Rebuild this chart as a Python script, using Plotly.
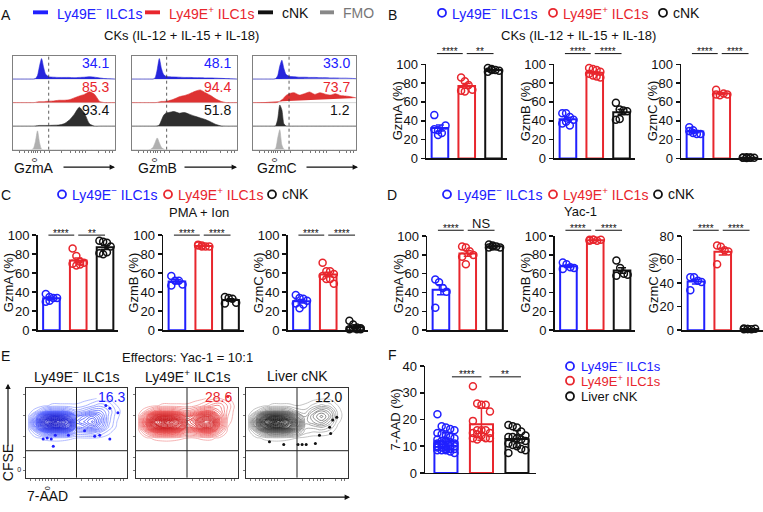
import numpy as np
import plotly.graph_objects as go

W, H = 763, 512
FONT = "Liberation Sans, Arial, Helvetica, sans-serif"
BLUE = "#2020ff"
RED = "#e8262d"
BLACK = "#111111"
GRAY = "#a8a8a8"
COLS = [BLUE, RED, BLACK]

NEG = "Ly49E<sup>−</sup> ILC1s"
POS = "Ly49E<sup>+</sup> ILC1s"

# ---------------- data ----------------
# A: histograms (fraction of row height) on a common GzmX scale
HIST_X = [0, 5, 10, 15, 18, 20, 22, 24, 26, 28, 30, 32, 35, 40, 45, 50, 55, 60, 65, 70, 75, 80, 85, 90, 95, 100]
GZMA_BLUE = [0, 0, 0, 0, 0, 0, 0.02, 0.15, 0.55, 0.87, 0.5, 0.2, 0.1, 0.08, 0.07, 0.07, 0.07, 0.06, 0.07, 0.08, 0.1, 0.08, 0.05, 0.02, 0.01, 0]
GZMA_RED = [0, 0, 0, 0, 0, 0, 0.01, 0.03, 0.04, 0.04, 0.04, 0.05, 0.06, 0.07, 0.1, 0.1, 0.12, 0.2, 0.28, 0.35, 0.46, 0.35, 0.05, 0, 0, 0]
GZMA_BLACK = [0, 0, 0, 0, 0, 0, 0.01, 0.02, 0.03, 0.03, 0.03, 0.03, 0.03, 0.04, 0.05, 0.1, 0.25, 0.5, 0.8, 0.55, 0.1, 0, 0, 0, 0, 0]
GZMA_FMO = [0, 0, 0, 0, 0, 0.05, 0.35, 0.8, 0.3, 0.02, 0, 0, 0, 0, 0, 0, 0, 0, 0, 0, 0, 0, 0, 0, 0, 0]
GZMB_BLUE = [0, 0, 0, 0, 0, 0, 0.05, 0.4, 0.87, 0.45, 0.2, 0.12, 0.1, 0.09, 0.08, 0.07, 0.07, 0.06, 0.06, 0.05, 0.05, 0.04, 0.03, 0.02, 0.01, 0]
GZMB_RED = [0, 0, 0, 0, 0, 0, 0, 0.01, 0.03, 0.05, 0.05, 0.06, 0.08, 0.15, 0.25, 0.3, 0.38, 0.48, 0.54, 0.42, 0.3, 0.15, 0.05, 0, 0, 0]
GZMB_BLACK = [0, 0, 0, 0, 0, 0, 0, 0.01, 0.05, 0.25, 0.45, 0.55, 0.58, 0.62, 0.55, 0.58, 0.5, 0.42, 0.35, 0.28, 0.18, 0.07, 0.01, 0, 0, 0]
GZMB_FMO = [0, 0, 0, 0, 0.02, 0.1, 0.3, 0.5, 0.3, 0.1, 0.03, 0, 0, 0, 0, 0, 0, 0, 0, 0, 0, 0, 0, 0, 0, 0]
GZMC_BLUE = [0, 0, 0, 0, 0, 0, 0.02, 0.15, 0.55, 0.8, 0.45, 0.2, 0.12, 0.1, 0.08, 0.08, 0.07, 0.07, 0.06, 0.06, 0.05, 0.05, 0.04, 0.04, 0.03, 0.02]
GZMC_RED = [0, 0, 0, 0, 0, 0, 0, 0.02, 0.06, 0.12, 0.2, 0.3, 0.38, 0.42, 0.32, 0.38, 0.45, 0.35, 0.42, 0.36, 0.32, 0.38, 0.3, 0.28, 0.25, 0.2]
GZMC_BLACK = [0, 0, 0, 0, 0, 0, 0.02, 0.3, 0.9, 0.7, 0.1, 0.01, 0, 0, 0, 0, 0, 0, 0, 0, 0, 0, 0, 0, 0, 0]
GZMC_FMO = [0, 0, 0, 0, 0, 0, 0.05, 0.5, 0.85, 0.2, 0.02, 0, 0, 0, 0, 0, 0, 0, 0, 0, 0, 0, 0, 0, 0, 0]
GZMA_PCT = [34.1, 85.3, 93.4]
GZMB_PCT = [48.1, 94.4, 51.8]
GZMC_PCT = [33.0, 73.7, 1.2]

# B: CKs (IL-12 + IL-15 + IL-18), % positive  [Ly49E-, Ly49E+, cNK]
CK_GZMA = [[46, 25, 27, 35, 31, 30], [86, 82, 78, 73, 72, 71], [96, 95, 94, 93, 92, 94]]
CK_GZMB = [[48, 48, 44, 41, 37, 39, 35], [96, 95, 94, 92, 90, 88, 87, 86], [59, 52, 51, 50, 41, 42]]
CK_GZMC = [[33, 30, 26, 26, 29, 27], [73, 67, 69, 68, 68], [1, 0.5, 1, 0.8, 0.6, 1.2, 0.7]]
# C: PMA + Ion
PMA_GZMA = [[38, 35, 34, 34, 30, 31], [86, 78, 72, 71, 70, 68, 69], [94, 93, 92, 88, 81, 80, 82]]
PMA_GZMB = [[57, 52, 52, 48, 47], [90, 89, 88, 88, 89, 88], [35, 34, 33, 29, 28]]
PMA_GZMC = [[37, 34, 33, 31, 28, 23, 27], [71, 62, 62, 59, 57, 54, 54, 49], [10, 6, 3, 2, 1, 2, 1, 1]]
# D: Yac-1
YAC_GZMA = [[54, 51, 45, 41, 24], [89, 88, 84, 80, 78, 70], [91, 90, 89, 88, 88, 89]]
YAC_GZMB = [[72, 70, 67, 66, 65], [96, 96, 95, 96, 95, 96], [74, 66, 60, 59, 58]]
YAC_GZMC = [[45, 45, 42, 41, 34], [72, 71, 68, 67, 56], [1.5, 1, 0.8, 1.2, 0.9, 1.1]]

# E: CFSE vs 7-AAD density grids (rows bottom->top)
E_X = [2, 10, 18, 26, 34, 42, 50, 58, 66, 74, 82, 90, 98]
E_Y = [36, 44, 50, 56, 62, 68, 74, 80, 88]
E_NEG_Z = [
    [0, 0, 0, 0, 0, 0, 0, 0, 0, 0, 0, 0, 0],
    [0, 0.2, 0.4, 0.5, 0.5, 0.4, 0.3, 0.3, 0.3, 0.2, 0.1, 0, 0],
    [0, 1.0, 2.5, 3.5, 3.5, 3.0, 1.5, 1.5, 1.6, 1.0, 0.4, 0, 0],
    [0.2, 3.0, 7.0, 9.0, 9.0, 7.5, 3.0, 3.2, 3.8, 2.5, 1.0, 0.2, 0],
    [0.3, 4.0, 9.5, 12.0, 11.5, 9.0, 3.5, 4.2, 5.0, 3.2, 1.2, 0.3, 0],
    [0.2, 2.5, 6.5, 8.5, 8.0, 6.0, 2.8, 3.5, 4.2, 3.0, 1.3, 0.4, 0],
    [0, 0.6, 1.8, 2.5, 2.5, 2.0, 1.2, 1.6, 2.2, 2.2, 1.4, 0.5, 0],
    [0, 0, 0.2, 0.4, 0.4, 0.4, 0.4, 0.6, 1.0, 1.3, 1.0, 0.3, 0],
    [0, 0, 0, 0, 0, 0, 0, 0.1, 0.2, 0.4, 0.3, 0.1, 0],
]
E_POS_Z = [
    [0, 0, 0, 0, 0, 0, 0, 0, 0, 0, 0, 0, 0],
    [0, 0.2, 0.4, 0.5, 0.5, 0.4, 0.3, 0.3, 0.4, 0.4, 0.2, 0, 0],
    [0, 1.2, 3.0, 3.8, 3.8, 3.0, 1.8, 2.0, 3.0, 3.0, 1.2, 0.1, 0],
    [0.2, 3.5, 8.0, 10.0, 9.5, 7.5, 4.0, 5.0, 7.5, 7.0, 2.8, 0.3, 0],
    [0.3, 4.5, 10.5, 12.0, 11.5, 9.0, 4.8, 6.0, 9.5, 9.0, 3.5, 0.5, 0],
    [0.2, 3.0, 7.0, 8.5, 8.0, 6.0, 3.5, 4.5, 7.0, 6.5, 3.0, 0.7, 0],
    [0, 0.8, 2.0, 2.5, 2.5, 2.0, 1.5, 2.0, 3.0, 3.2, 2.2, 0.9, 0],
    [0, 0, 0.2, 0.4, 0.4, 0.4, 0.4, 0.6, 1.0, 1.6, 1.8, 1.0, 0.1],
    [0, 0, 0, 0, 0, 0, 0, 0.1, 0.2, 0.5, 0.7, 0.4, 0],
]
E_NK_Z = [
    [0, 0, 0, 0, 0, 0, 0, 0, 0, 0, 0, 0, 0],
    [0, 0.2, 0.4, 0.5, 0.5, 0.4, 0.3, 0.2, 0.1, 0.1, 0.1, 0, 0],
    [0, 1.0, 2.5, 3.5, 3.5, 3.0, 2.0, 0.8, 0.6, 0.6, 0.4, 0.1, 0],
    [0.2, 3.0, 7.0, 9.0, 9.0, 7.5, 4.2, 1.2, 1.2, 1.5, 1.0, 0.2, 0],
    [0.3, 4.0, 9.5, 12.0, 11.5, 9.0, 4.8, 1.6, 2.2, 2.8, 1.8, 0.4, 0],
    [0.2, 2.5, 6.5, 8.5, 8.0, 6.0, 3.0, 1.4, 2.6, 3.5, 2.5, 0.6, 0],
    [0, 0.6, 1.8, 2.5, 2.5, 2.0, 1.0, 0.8, 1.8, 2.6, 2.0, 0.5, 0],
    [0, 0, 0.2, 0.4, 0.4, 0.4, 0.3, 0.4, 0.8, 1.2, 0.9, 0.3, 0],
    [0, 0, 0, 0, 0, 0, 0, 0, 0.1, 0.2, 0.2, 0.1, 0],
]
E_NEG_DOTS_X = [17, 21, 25, 27, 29, 42, 58, 68, 73, 83, 91, 79, 83]
E_NEG_DOTS_Y = [43, 44, 43, 35, 47, 47, 52, 46, 47, 43, 72, 80, 77]
E_POS_DOTS_X = [90]
E_POS_DOTS_Y = [90]
E_NK_DOTS_X = [23, 37, 51, 55, 59, 68, 72, 82, 83, 89, 85]
E_NK_DOTS_Y = [40, 37, 37, 37, 37, 38, 47, 56, 49, 67, 64]
E_PCT = [16.3, 28.6, 12.0]

# F: % 7-AAD+ Yac-1 cells
F_NEG = [22, 17.5, 17, 16.5, 16, 15, 14.5, 14, 13.5, 13, 12.5, 12, 12, 11.5, 11, 11, 10.5,
         10, 10, 10, 9.5, 9.5, 9, 9, 9, 8.5, 8.5, 8.5, 8, 7.5, 10, 11, 12]
F_POS = [32.5, 26, 25.5, 25.5, 23, 19.5, 16, 16, 16, 15, 15, 14.5, 14, 13, 13, 13, 12.5]
F_NK = [18, 17.5, 17, 15.5, 14, 13.5, 13.5, 13, 12.5, 12, 11, 10.5, 10, 9, 8.5, 7.5]

# ---------------- helpers ----------------
fig = go.Figure()
shapes, anns, axes = [], [], {}


def X(p):
    return p / W


def Y(p):
    return 1 - p / H


def text(t, x, y, size=12, color=BLACK, xanchor="center", angle=0):
    anns.append(dict(text=t, x=X(x), y=Y(y), xref="paper", yref="paper", showarrow=False,
                     xanchor=xanchor, yanchor="middle", textangle=angle,
                     font=dict(size=size, color=color, family=FONT)))


def arrow(x0, y0, x1, y1):
    anns.append(dict(text="", x=X(x1), y=Y(y1), xref="paper", yref="paper", showarrow=True,
                     ax=x0 - x1, ay=y0 - y1, axref="pixel", ayref="pixel",
                     arrowhead=2, arrowsize=0.9, arrowwidth=1.2, arrowcolor=BLACK))


def hline(x0, x1, y, color=BLACK, width=1):
    shapes.append(dict(type="line", xref="paper", yref="paper", x0=X(x0), x1=X(x1),
                       y0=Y(y), y1=Y(y), line=dict(color=color, width=width)))


def ring(x, y, color, r=4):
    shapes.append(dict(type="circle", xref="paper", yref="paper", xsizemode="pixel", ysizemode="pixel",
                       xanchor=X(x), yanchor=Y(y), x0=-r, x1=r, y0=-r, y1=r,
                       line=dict(color=color, width=1.8)))


def new_axes(xdom, ydom, xr, yr):
    i = len(axes) // 2 + 1
    s = "" if i == 1 else str(i)
    base = dict(showgrid=False, zeroline=False, showticklabels=False, ticks="", fixedrange=True)
    axes["xaxis" + s] = dict(base, domain=[X(xdom[0]), X(xdom[1])], range=xr, anchor="y" + s)
    axes["yaxis" + s] = dict(base, domain=[Y(ydom[1]), Y(ydom[0])], range=yr, anchor="x" + s)
    return "x" + s, "y" + s, s


def ring_legend(y, items):
    for cx, color, label in items:
        ring(cx, y, color)
        text(label, cx + 8, y, size=14, color=color, xanchor="left")


# ---------------- A: histograms ----------------
text("A", 6, 8, size=14)
for x0, col, lab, x1 in [(33, BLUE, NEG, 48), (145, RED, POS, 160), (258, BLACK, "cNK", 273), (320, "#888888", "FMO", 334)]:
    shapes.append(dict(type="rect", xref="paper", yref="paper", x0=X(x0), x1=X(x1), y0=Y(7.5), y1=Y(3.5),
                       fillcolor=col, line=dict(width=0)))
    text(lab, x1 + 7, 6, size=14, color=col if col != "#888888" else "#777777", xanchor="left")
text("CKs (IL-12 + IL-15 + IL-18)", 181, 29, size=13)

HIST_PANELS = [
    ("GzmA", [GZMA_BLUE, GZMA_RED, GZMA_BLACK, GZMA_FMO], GZMA_PCT),
    ("GzmB", [GZMB_BLUE, GZMB_RED, GZMB_BLACK, GZMB_FMO], GZMB_PCT),
    ("GzmC", [GZMC_BLUE, GZMC_RED, GZMC_BLACK, GZMC_FMO], GZMC_PCT),
]
A_BOX = [(13, 115), (132, 237), (253, 356)]
A_GATE = [35, 33, 35]
A_LAB = [(34, 62, 115), (157, 183, 237), (277, 305, 358)]
HFILL = ["#2626dc", "#de3232", "#2e2e2e", "#b0b0b0"]
A_TICKS = [6, 11, 15, 18, 20, 22, 24, 27, 31, 36, 48, 56, 61, 65, 68, 71, 84, 91, 95, 98]
for p, (name, curves, pct) in enumerate(HIST_PANELS):
    bx0, bx1 = A_BOX[p]
    xa, ya, s = new_axes([bx0, bx1], [50, 147], [0, 100], [0, 4])
    axes["xaxis" + s].update(showline=True, mirror=True, linecolor="#808080", linewidth=1,
                             ticks="outside", ticklen=2.5, tickcolor="#555555", tickwidth=0.8,
                             tickvals=A_TICKS, ticktext=["0" if t == 22 else " " for t in A_TICKS],
                             showticklabels=True, tickfont=dict(size=7, family=FONT, color=BLACK))
    axes["yaxis" + s].update(showline=True, mirror=True, linecolor="#808080", linewidth=1)
    for r in (1, 2, 3):
        shapes.append(dict(type="line", xref=xa, yref=ya, x0=0, x1=100, y0=r, y1=r,
                           line=dict(color="#c4c4c4", width=0.7), layer="below"))
    for r, vals in enumerate(curves):
        base = 3 - r
        fig.add_trace(go.Scatter(x=HIST_X, y=[base + v for v in vals], mode="lines", fill="toself",
                                 fillcolor=HFILL[r], line=dict(color=HFILL[r], width=0.6, shape="spline", smoothing=0.6),
                                 xaxis=xa, yaxis=ya, hoverinfo="skip", showlegend=False))
    shapes.append(dict(type="line", xref=xa, yref=ya, x0=A_GATE[p], x1=A_GATE[p], y0=0, y1=4,
                       line=dict(color="#333333", width=0.8, dash="dot")))
    for r in range(3):
        text(f"{pct[r]:.1f}", bx1 - 4, 50 + r * 24.25 + 8, size=14, color=COLS[r], xanchor="right")
    lx, ax0, ax1 = A_LAB[p]
    text(name, lx, 166, size=14)
    arrow(ax0, 165, ax1, 165)


# ---------------- bar panels ----------------
def bar_panel(x0, ytop, ybot, groups, ytitle, ymax, dtick, sig, sig_y, step=26.8, xr=(-0.52, 2.5),
              bw=0.62, err="sem", jit=0.14, ncyc=4, sig_off=((-3, -4), (0, 0)), msize=7):
    xa, ya, s = new_axes([x0, x0 + (xr[1] - xr[0]) * step], [ytop, ybot], list(xr), [0, ymax])
    axes["xaxis" + s].update(showline=True, linecolor=BLACK, linewidth=1.5)
    axes["yaxis" + s].update(showline=True, linecolor=BLACK, linewidth=1.5, ticks="outside", ticklen=4,
                             tickwidth=1.5, tickcolor=BLACK, showticklabels=True,
                             tickvals=list(range(0, ymax + 1, dtick)),
                             tickfont=dict(size=13, family=FONT, color=BLACK))
    means = [float(np.mean(g)) for g in groups]
    if err == "sem":
        errs = [float(np.std(g, ddof=1) / np.sqrt(len(g))) for g in groups]
    else:
        errs = [float(np.std(g, ddof=1)) for g in groups]
    fig.add_trace(go.Bar(x=[0, 1, 2], y=means, width=bw,
                         marker=dict(color="rgba(255,255,255,0)", line=dict(color=COLS, width=2)),
                         xaxis=xa, yaxis=ya, hoverinfo="skip", showlegend=False))
    for k, g in enumerate(groups):
        offs = [((j % ncyc) - (ncyc - 1) / 2) * jit for j in range(len(g))]
        fig.add_trace(go.Scatter(x=[k + o for o in offs], y=g, mode="markers", cliponaxis=False,
                                 marker=dict(symbol="circle-open", size=msize, color=COLS[k], line=dict(width=1.5)),
                                 xaxis=xa, yaxis=ya, hoverinfo="skip", showlegend=False))
        fig.add_trace(go.Scatter(x=[k], y=[means[k]], mode="markers", cliponaxis=False,
                                 marker=dict(size=0.1, color=COLS[k]),
                                 error_y=dict(type="data", array=[errs[k]], color=COLS[k], thickness=1.5, width=4),
                                 xaxis=xa, yaxis=ya, hoverinfo="skip", showlegend=False))
    text(ytitle, x0 - 29, (ytop + ybot) / 2, size=13, angle=-90)
    c = [x0 + (k - xr[0]) * step for k in range(3)]
    for j, label in enumerate(sig):
        a, b = (c[0] + sig_off[0][0], c[1] + sig_off[0][1]) if j == 0 else (c[1] + sig_off[1][0], c[2] + sig_off[1][1])
        hline(a, b, sig_y, width=1)
        if label == "NS":
            text(label, (a + b) / 2, sig_y - 7, size=13)
        else:
            text(label, (a + b) / 2, sig_y - 2, size=10)


# B
text("B", 392, 8, size=14)
ring_legend(6, [(442, BLUE, NEG), (553, RED, POS), (663, BLACK, "cNK")])
text("CKs (IL-12 + IL-15 + IL-18)", 578, 29, size=13)
bar_panel(426, 59, 156, CK_GZMA, "GzmA (%)", 100, 20, ["****", "**"], 48)
bar_panel(554, 59, 156, CK_GZMB, "GzmB (%)", 100, 20, ["****", "****"], 48)
bar_panel(681, 59, 156, CK_GZMC, "GzmC (%)", 100, 20, ["****", "****"], 48)

# C
text("C", 6, 194, size=14)
ring_legend(193, [(62, BLUE, NEG), (168, RED, POS), (272, BLACK, "cNK")])
text("PMA + Ion", 199, 212, size=13)
bar_panel(37.5, 235, 333, PMA_GZMA, "GzmA (%)", 100, 20, ["****", "**"], 235)
bar_panel(163, 235, 333, PMA_GZMB, "GzmB (%)", 100, 20, ["****", "****"], 235)
bar_panel(287.5, 235, 333, PMA_GZMC, "GzmC (%)", 100, 20, ["****", "****"], 235)

# D
text("D", 392, 194, size=14)
ring_legend(193, [(447, BLUE, NEG), (553, RED, POS), (658, BLACK, "cNK")])
text("Yac-1", 580, 211, size=13)
bar_panel(427, 236, 333, YAC_GZMA, "GzmA (%)", 100, 20, ["****", "NS"], 230)
bar_panel(554.5, 236, 333, YAC_GZMB, "GzmB (%)", 100, 20, ["****", "****"], 230)
bar_panel(682, 236, 333, YAC_GZMC, "GzmC (%)", 80, 20, ["****", "****"], 230)

# ---------------- E: contour plots ----------------
text("E", 6, 360, size=14)
text("Effectors: Yac-1 = 10:1", 187, 361, size=13)
E_PANELS = [
    (E_NEG_Z, E_NEG_DOTS_X, E_NEG_DOTS_Y, BLUE, NEG,
     [[0, "#aab4ff"], [0.25, "#5a68ff"], [1, "#0a0ac0"]]),
    (E_POS_Z, E_POS_DOTS_X, E_POS_DOTS_Y, RED, POS,
     [[0, "#f4aaaa"], [0.25, "#ec5a5a"], [1, "#c00c10"]]),
    (E_NK_Z, E_NK_DOTS_X, E_NK_DOTS_Y, BLACK, "Liver cNK",
     [[0, "#bcbcbc"], [0.25, "#707070"], [1, "#0a0a0a"]]),
]
E_BOX = [(26, 127), (136, 238), (246, 348)]
E_NUMX = [111, 218, 328]
E_YT = [8.6, 23, 46, 69, 92]
E_XT = [4, 9, 13, 16, 19, 22, 25, 28, 31, 38, 55, 62, 66, 70, 73, 76, 88, 94, 97]
for p, (z, dx, dy, col, title, scale) in enumerate(E_PANELS):
    bx0, bx1 = E_BOX[p]
    xa, ya, s = new_axes([bx0, bx1], [392, 485], [0, 100], [0, 100])
    axes["xaxis" + s].update(showline=True, mirror=True, linecolor="#333333", linewidth=1,
                             ticks="outside", ticklen=2.5, tickwidth=0.8, tickcolor="#555555",
                             tickvals=E_XT, showticklabels=(p == 0),
                             ticktext=["0" if t == 22 else " " for t in E_XT],
                             tickfont=dict(size=7, family=FONT, color=BLACK))
    axes["yaxis" + s].update(showline=True, mirror=True, linecolor="#333333", linewidth=1,
                             ticks="outside", ticklen=2.5, tickwidth=0.8, tickcolor="#555555",
                             tickvals=E_YT, showticklabels=(p == 0),
                             ticktext=["0", " ", " ", " ", " "],
                             tickfont=dict(size=7, family=FONT, color=BLACK))
    fig.add_trace(go.Contour(x=E_X, y=E_Y, z=z, colorscale=scale, showscale=False,
                             contours=dict(coloring="lines", start=0.3, end=12, size=0.38),
                             line=dict(width=0.9, smoothing=1.3), hoverinfo="skip",
                             xaxis=xa, yaxis=ya))
    fig.add_trace(go.Scatter(x=dx, y=dy, mode="markers", marker=dict(size=3, color=col),
                             xaxis=xa, yaxis=ya, hoverinfo="skip", showlegend=False))
    shapes.append(dict(type="line", xref=xa, yref=ya, x0=50, x1=50, y0=0, y1=100,
                       line=dict(color="#222222", width=1)))
    shapes.append(dict(type="line", xref=xa, yref=ya, x0=0, x1=100, y0=30, y1=30,
                       line=dict(color="#222222", width=1)))
    text(title, (bx0 + bx1) / 2, 380, size=14)
    text(f"{E_PCT[p]:.1f}", E_NUMX[p], 402, size=14, color=col)
text("CFSE", 8, 470, size=14, angle=-90)
arrow(8, 452, 8, 388)
text("7-AAD", 48, 504, size=14)
arrow(78, 505, 350, 505)

# ---------------- F ----------------
text("F", 392, 358, size=14)
bar_panel(425, 370, 480, [F_NEG, F_POS, F_NK], "7-AAD (%)", 40, 10, ["****", "**"], 381,
          step=35.5, xr=(-0.59, 2.53), bw=0.65, err="sd", jit=0.12, ncyc=5,
          sig_off=((6, 0), (8, 4)), msize=7)
for yy, col, lab in [(370, BLUE, NEG), (385, RED, POS), (401, BLACK, "Liver cNK")]:
    ring(570, yy, col)
    text(lab, 579, yy, size=13, color=col, xanchor="left")

fig.update_layout(
    width=W, height=H, margin=dict(l=0, r=0, t=0, b=0), autosize=False,
    paper_bgcolor="white", plot_bgcolor="rgba(0,0,0,0)",
    showlegend=False, hovermode=False,
    font=dict(family=FONT, color=BLACK),
    shapes=shapes, annotations=anns, **axes,
)
fig.write_html("out.html", config={"displayModeBar": False, "staticPlot": True},
               post_script="document.body.style.margin='0px';")
